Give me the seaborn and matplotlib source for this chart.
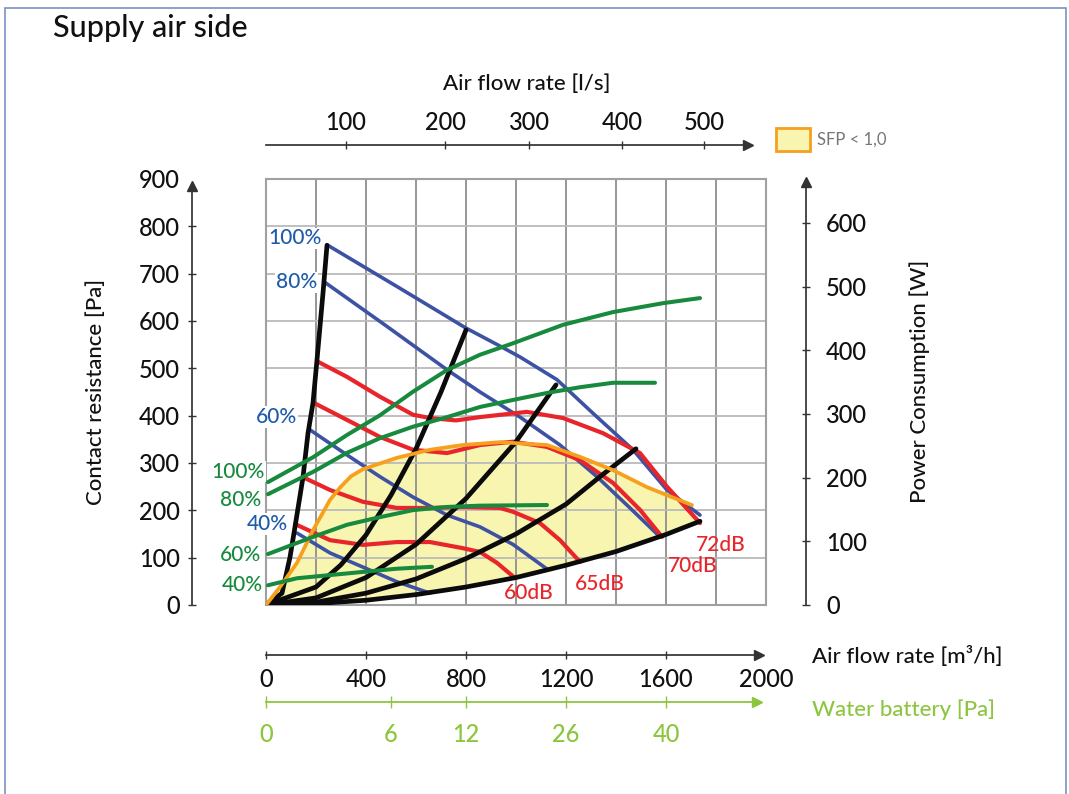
import numpy as np
import pandas as pd
import matplotlib
matplotlib.use("Agg")
import matplotlib.pyplot as plt
import seaborn as sns
from matplotlib.patches import Rectangle

sns.set_theme(style="white")
plt.rcParams["font.family"] = ["Lato", "DejaVu Sans"]
plt.rcParams["font.weight"] = "medium"

# ---- data (x = air flow m3/h, y = pressure Pa) ----
# system curves (black)
sys1_x = [0, 64, 96, 116, 148, 168, 188, 204, 228, 244]
sys1_y = [0, 25, 101, 165, 270, 363, 427, 518, 659, 760]
sys2_x = [0, 200, 300, 400, 500, 600, 700, 800]
sys2_y = [0, 38, 85, 148, 232, 330, 450, 581]
sys3_x = [0, 200, 400, 600, 800, 1000, 1160]
sys3_y = [0, 15, 58, 128, 225, 345, 465]
sys4_x = [0, 200, 400, 600, 800, 1000, 1200, 1350, 1480]
sys4_y = [0, 6, 25, 55, 98, 150, 213, 277, 330]
sys5_x = [0, 200, 400, 600, 800, 1000, 1200, 1400, 1600, 1736]
sys5_y = [0, 3, 10, 22, 38, 58, 84, 113, 149, 177]

# fan speed curves (blue)
b100_x = [244, 536, 800, 936, 1016, 1164, 1308, 1468, 1604, 1736]
b100_y = [761, 669, 585, 547, 524, 476, 405, 328, 243, 190]
b80_x = [232, 480, 724, 856, 1016, 1176, 1324, 1456, 1568]
b80_y = [683, 590, 497, 450, 397, 338, 271, 205, 148]
b60_x = [176, 324, 456, 588, 724, 856, 988, 1124]
b60_y = [370, 317, 271, 228, 190, 165, 128, 76]
b40_x = [124, 256, 388, 524, 656]
b40_y = [152, 110, 80, 49, 25]

# sound level curves (red)
r72_x = [204, 324, 456, 588, 656, 760, 856, 1044, 1188, 1348, 1496, 1604, 1736]
r72_y = [515, 482, 440, 402, 395, 390, 397, 408, 395, 363, 321, 250, 173]
r70_x = [188, 324, 456, 588, 724, 856, 988, 1124, 1256, 1388, 1496, 1584]
r70_y = [428, 391, 355, 328, 321, 338, 345, 334, 306, 258, 201, 144]
r65_x = [148, 256, 388, 524, 656, 788, 936, 988, 1096, 1176, 1256]
r65_y = [270, 243, 218, 205, 205, 207, 205, 197, 173, 137, 91]
r60_x = [116, 256, 388, 524, 656, 788, 856, 924, 996]
r60_y = [171, 137, 127, 133, 133, 120, 112, 89, 57]

# power consumption curves (green, W on right axis)
g100_x = [8, 188, 324, 456, 588, 724, 856, 988, 1188, 1388, 1588, 1736]
g100_w = [193, 232, 267, 298, 335, 369, 393, 411, 440, 460, 474, 482]
g80_x = [8, 188, 324, 456, 588, 724, 856, 988, 1124, 1256, 1388, 1556]
g80_w = [174, 209, 239, 262, 280, 295, 311, 322, 333, 342, 349, 349]
g60_x = [8, 188, 324, 456, 588, 724, 856, 1124]
g60_w = [80, 107, 126, 138, 149, 154, 156, 157]
g40_x = [8, 124, 256, 388, 524, 664]
g40_w = [31, 42, 47, 52, 57, 60]

# SFP < 1,0 limit (orange)
sfp_x = [0, 56, 124, 188, 256, 296, 340, 388, 524, 656, 788, 936, 1124, 1256, 1388, 1524, 1704]
sfp_y = [0, 38, 89, 158, 222, 248, 272, 287, 311, 328, 338, 344, 338, 313, 285, 249, 211]

pct_labels = ["100%", "80%", "60%", "40%"]
db_labels = ["72dB", "70dB", "65dB", "60dB"]
m3h_ticks = [0, 400, 800, 1200, 1600, 2000]
ls_labels = [100, 200, 300, 400, 500]
ls_tick_pos = [320, 716, 1052, 1424, 1752]
water_labels = [0, 6, 12, 26, 40]
water_tick_pos = [0, 500, 800, 1200, 1600]
pa_ticks = list(range(0, 901, 100))
w_ticks = list(range(0, 601, 100))

BLACK = "#0b0b0b"
BLUE = "#3e52a3"
BLUE_TXT = "#1f5ba8"
RED = "#e8252a"
GREEN = "#178a3e"
ORANGE = "#f6a01c"
FILL = "#f8f5b0"
LGREEN = "#8cc63f"
AX = "#333333"


def long_frame(curves):
    rows = []
    for name, xs, ys in curves:
        for x, y in zip(xs, ys):
            rows.append((name, x, y))
    return pd.DataFrame(rows, columns=["curve", "x", "y"])


black_df = long_frame([("s1", sys1_x, sys1_y), ("s2", sys2_x, sys2_y), ("s3", sys3_x, sys3_y),
                       ("s4", sys4_x, sys4_y), ("s5", sys5_x, sys5_y)])
blue_df = long_frame([("100", b100_x, b100_y), ("80", b80_x, b80_y),
                      ("60", b60_x, b60_y), ("40", b40_x, b40_y)])
red_df = long_frame([("72", r72_x, r72_y), ("70", r70_x, r70_y),
                     ("65", r65_x, r65_y), ("60", r60_x, r60_y)])
green_df = long_frame([("100", g100_x, g100_w), ("80", g80_x, g80_w),
                       ("60", g60_x, g60_w), ("40", g40_x, g40_w)])
sfp_df = pd.DataFrame({"x": sfp_x, "y": sfp_y})

fig = plt.figure(figsize=(10.69, 7.94), dpi=100)
ax = fig.add_axes([266 / 1069, 189 / 794, 500 / 1069, 426 / 794])
ax.set_xlim(0, 2000)
ax.set_ylim(0, 900)

# grid / frame
ax.set_xticks(range(0, 2001, 200))
ax.set_yticks(pa_ticks)
ax.tick_params(length=0, labelbottom=False, labelleft=False)
ax.grid(axis="x", color="#8f8f8f", lw=1.3)
ax.grid(axis="y", color="#bababa", lw=1.3)
ax.set_axisbelow(True)
for sp in ax.spines.values():
    sp.set_color("#a0a0a0")
    sp.set_linewidth(1.5)

# SFP area
poly_x = sfp_x + sys5_x[::-1]
poly_y = sfp_y + sys5_y[::-1]
ax.fill(poly_x, poly_y, color=FILL, lw=0, zorder=0.2)

common = dict(units="curve", estimator=None, sort=False, ax=ax,
              solid_capstyle="round", solid_joinstyle="round")
sns.lineplot(data=blue_df, x="x", y="y", color=BLUE, lw=2.6, zorder=3, **common)
sns.lineplot(data=red_df, x="x", y="y", color=RED, lw=3.0, zorder=4, **common)
sns.lineplot(data=black_df, x="x", y="y", color=BLACK, lw=3.4, zorder=5, **common)
sns.lineplot(data=sfp_df, x="x", y="y", color=ORANGE, lw=2.7, zorder=6, sort=False, ax=ax,
             solid_joinstyle="round")
ax.set_xlabel("")
ax.set_ylabel("")

# right axis: power consumption
tw = ax.twinx()
tw.set_ylim(0, 669)
sns.lineplot(data=green_df, x="x", y="y", color=GREEN, lw=2.9, units="curve",
             estimator=None, sort=False, ax=tw, solid_capstyle="round", solid_joinstyle="round")
tw.set_xlim(0, 2000)
tw.set_ylabel("")
for k in ["left", "top", "bottom"]:
    tw.spines[k].set_visible(False)
tw.spines["right"].set_position(("axes", 1.08))
tw.spines["right"].set_bounds(0, 664)
tw.spines["right"].set_color(AX)
tw.set_yticks(w_ticks)
tw.tick_params(axis="y", direction="inout", length=6, width=1, color=AX,
               labelsize=17, pad=11.5, labelcolor="#111111")
tw.plot(1.08, 664, marker="^", ms=7, color=AX, transform=tw.get_yaxis_transform(), clip_on=False)

tick_kw = dict(direction="inout", length=6, width=1, color=AX, labelsize=17, labelcolor="#111111")

# left axis
ly = ax.secondary_yaxis(-0.148)
ly.set_yticks(pa_ticks)
ly.tick_params(pad=5.7, **tick_kw)
for sp in ly.spines.values():
    sp.set_color(AX)
    sp.set_bounds(0, 885)
ly.yaxis.get_major_ticks()[-1].tick1line.set_visible(False)
ly.yaxis.get_major_ticks()[-1].tick2line.set_visible(False)
ax.plot(-0.148, 885, marker="^", ms=7, color=AX, transform=ax.get_yaxis_transform(), clip_on=False)

# top axis (l/s)
tx = ax.secondary_xaxis(1.0798)
tx.set_xticks(ls_tick_pos, [str(v) for v in ls_labels])
tx.tick_params(pad=5.0, **tick_kw)
for sp in tx.spines.values():
    sp.set_color(AX)
    sp.set_bounds(0, 1928)
ax.plot(1928, 1.0798, marker=">", ms=7, color=AX, transform=ax.get_xaxis_transform(), clip_on=False)

# bottom axis (m3/h)
bx = ax.secondary_xaxis(-0.1174)
bx.set_xticks(m3h_ticks, [str(v) for v in m3h_ticks])
bx.tick_params(pad=6.5, **tick_kw)
for sp in bx.spines.values():
    sp.set_color(AX)
    sp.set_bounds(0, 1972)
bx.xaxis.get_major_ticks()[-1].tick1line.set_visible(False)
bx.xaxis.get_major_ticks()[-1].tick2line.set_visible(False)
ax.plot(1972, -0.1174, marker=">", ms=7, color=AX, transform=ax.get_xaxis_transform(), clip_on=False)

# water battery axis
wx = ax.secondary_xaxis(-0.2277)
wx.set_xticks(water_tick_pos, [str(v) for v in water_labels])
wx.tick_params(direction="inout", length=8, width=1, color=LGREEN, labelsize=17,
               labelcolor=LGREEN, pad=11.0)
for sp in wx.spines.values():
    sp.set_color(LGREEN)
    sp.set_linewidth(1.3)
    sp.set_bounds(0, 1964)
ax.plot(1964, -0.2277, marker=">", ms=7, color=LGREEN, transform=ax.get_xaxis_transform(), clip_on=False)

# axis titles
ax.text(-0.34, 0.5, "Contact resistance [Pa]", rotation=90, ha="center", va="center",
        fontsize=16, color="#111111", transform=ax.transAxes)
tw.text(1.308, 0.526, "Power Consumption [W]", rotation=90, ha="center", va="center",
        fontsize=16, color="#111111", transform=ax.transAxes)
ax.text(0.522, 1.222, "Air flow rate [l/s]", ha="center", va="center",
        fontsize=16, color="#111111", transform=ax.transAxes)
ax.text(1.092, -0.122, "Air flow rate [m³/h]", ha="left", va="center",
        fontsize=16, color="#111111", transform=ax.transAxes)
ax.text(1.092, -0.246, "Water battery [Pa]", ha="left", va="center",
        fontsize=16, color=LGREEN, transform=ax.transAxes)

# curve labels
blue_lab_xy = [(224, 775), (204, 682), (124, 397), (88, 171)]
green_lab_xy = [(-4, 282), (-20, 222), (-20, 106), (-12, 42)]
red_lab_xy = [(1720, 127), (1608, 82), (1236, 44), (952, 25)]
for lab, (x, y) in zip(pct_labels, blue_lab_xy):
    ax.text(x, y, lab, ha="right", va="center", fontsize=15, color=BLUE_TXT, zorder=8,
            bbox=dict(fc="white", ec="none", pad=0.5), clip_on=False)
for lab, (x, y) in zip(pct_labels, green_lab_xy):
    ax.text(x, y, lab, ha="right", va="center", fontsize=15, color=GREEN, zorder=8,
            bbox=dict(fc="white", ec="none", pad=0.5), clip_on=False)
for lab, (x, y) in zip(db_labels, red_lab_xy):
    ax.text(x, y, lab, ha="left", va="center", fontsize=15, color=RED, zorder=8, clip_on=False)

# legend
fig.patches.append(Rectangle((776 / 1069, 1 - 151 / 794), 34 / 1069, 23 / 794, transform=fig.transFigure,
                             facecolor=FILL, edgecolor=ORANGE, lw=2))
fig.text(817 / 1069, 1 - 140 / 794, "SFP < 1,0", ha="left", va="center", fontsize=12,
         color="#777777", fontweight="normal")

# title and frame
fig.text(53 / 1069, 1 - 28 / 794, "Supply air side", ha="left", va="center", fontsize=22, color="#111111")
fig.patches.append(Rectangle((5 / 1069, -0.01), 1061 / 1069, 1 - 8 / 794 + 0.01, transform=fig.transFigure,
                             fill=False, edgecolor="#7d92c4", lw=1.2))

fig.savefig("out.png", dpi=100)
